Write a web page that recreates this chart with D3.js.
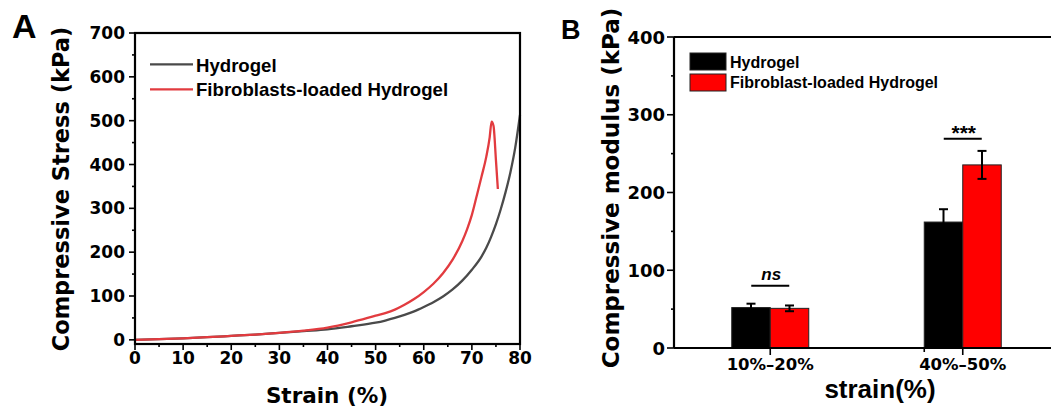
<!DOCTYPE html>
<html>
<head>
<meta charset="utf-8">
<script src="https://cdn.jsdelivr.net/npm/d3@7"></script>
<style>
  body { margin: 0; background: #fff; }
  text { font-family: "Liberation Sans", Arial, sans-serif; font-weight: bold; fill: #000; }
  text.wide { font-family: "DejaVu Sans", sans-serif; }
</style>
</head>
<body>
<script>
// panel A data: stress-strain curves
var hydroStrain = [0, 5, 10, 15, 20, 25, 30, 35, 40, 45, 50, 52, 54, 56, 58, 60, 62, 64, 66, 68, 70, 72, 73, 74, 75, 76, 77, 78, 79, 80];
var hydroStress = [0, 1.5, 3.5, 6, 9, 12, 16, 20, 24, 31, 39, 44, 50, 57, 65, 75, 86, 99, 115, 135, 160, 190, 210, 235, 264, 298, 337, 382, 438, 513];
var fibroStrain = [0, 5, 10, 15, 20, 25, 30, 35, 40, 45, 50, 52, 54, 56, 58, 60, 62, 64, 66, 68, 69, 70, 71, 72, 73, 73.7, 74.1, 74.5, 75, 75.4];
var fibroStress = [0, 1.5, 3.5, 6, 9, 12, 16, 21, 28, 40, 55, 61, 69, 80, 93, 109, 128, 152, 183, 225, 252, 285, 328, 372, 418, 462, 498, 488, 410, 344];
var seriesA = ["Hydrogel", "Fibroblasts-loaded Hydrogel"];

// panel B data: compressive modulus
var ranges = ["10%\u201320%", "40%\u201350%"];
var seriesB = ["Hydrogel", "Fibroblast-loaded Hydrogel"];
var modHydro = [52, 162];
var modFibro = [51, 235.5];
var errHydro = [5, 16.5];
var errFibro = [3.7, 18];
var sigLabels = ["ns", "***"];
var sigLevel = [80, 269];

var svg = d3.select("body").append("svg")
    .attr("width", 1051)
    .attr("height", 412);

// ---------- panel A ----------
var xA = d3.scaleLinear().domain([0, 80]).range([135, 520]);
var yA = d3.scaleLinear().domain([-9.5, 700]).range([344, 33]);

var gA = svg.append("g");

var line = d3.line()
    .x(function(d) { return xA(d[0]); })
    .y(function(d) { return yA(d[1]); })
    .curve(d3.curveMonotoneX);

gA.append("path")
    .datum(d3.zip(hydroStrain, hydroStress))
    .attr("d", line)
    .attr("fill", "none").attr("stroke", "#4a4a4a").attr("stroke-width", 2.3);
gA.append("path")
    .datum(d3.zip(fibroStrain, fibroStress))
    .attr("d", line)
    .attr("fill", "none").attr("stroke", "#e23b3f").attr("stroke-width", 2.3);

// box
gA.append("rect")
    .attr("x", xA(0)).attr("y", yA(700))
    .attr("width", xA(80) - xA(0)).attr("height", yA(-9.5) - yA(700))
    .attr("fill", "none").attr("stroke", "#000").attr("stroke-width", 2.2);

// ticks
gA.selectAll(".xt").data(d3.range(0, 81, 5)).enter().append("line")
    .attr("x1", function(d) { return xA(d); })
    .attr("x2", function(d) { return xA(d); })
    .attr("y1", 344)
    .attr("y2", function(d) { return d % 10 == 0 ? 350 : 347; })
    .attr("stroke", "#000").attr("stroke-width", 1.6);
gA.selectAll(".xl").data(d3.range(0, 81, 10)).enter().append("text")
    .attr("class", "wide")
    .attr("x", function(d) { return xA(d); })
    .attr("y", 364)
    .attr("text-anchor", "middle")
    .style("font-size", "17px")
    .text(function(d) { return d; });

gA.selectAll(".yt").data(d3.range(0, 701, 50)).enter().append("line")
    .attr("x1", 135)
    .attr("x2", function(d) { return d % 100 == 0 ? 129 : 132; })
    .attr("y1", function(d) { return yA(d); })
    .attr("y2", function(d) { return yA(d); })
    .attr("stroke", "#000").attr("stroke-width", 1.6);
gA.selectAll(".yl").data(d3.range(0, 701, 100)).enter().append("text")
    .attr("class", "wide")
    .attr("x", 125)
    .attr("y", function(d) { return yA(d) + 6; })
    .attr("text-anchor", "end")
    .style("font-size", "17px")
    .text(function(d) { return d; });

gA.append("text")
    .attr("class", "wide")
    .attr("transform", "translate(61,189) rotate(-90)")
    .attr("text-anchor", "middle")
    .attr("dy", "0.35em")
    .style("font-size", "22.5px")
    .text("Compressive Stress (kPa)");
gA.append("text")
    .attr("class", "wide")
    .attr("x", 327).attr("y", 403)
    .attr("text-anchor", "middle")
    .style("font-size", "21.5px")
    .text("Strain (%)");
gA.append("text")
    .attr("x", 12).attr("y", 38)
    .style("font-size", "34px")
    .text("A");

var colA = ["#4a4a4a", "#e23b3f"];
seriesA.forEach(function(s, i) {
    gA.append("line")
        .attr("x1", 150).attr("x2", 193)
        .attr("y1", 64.3 + i * 25).attr("y2", 64.3 + i * 25)
        .attr("stroke", colA[i]).attr("stroke-width", 2.3);
    gA.append("text")
        .attr("x", 196).attr("y", 71.5 + i * 24.5)
        .style("font-size", "18.6px")
        .text(s);
});

// ---------- panel B ----------
var x0 = d3.scaleBand().domain(ranges).range([674, 1059]).paddingInner(0.6).paddingOuter(0.3);
var x1 = d3.scaleBand().domain(seriesB).range([0, x0.bandwidth()]);
var yB = d3.scaleLinear().domain([0, 400]).range([348, 37]);

var gB = svg.append("g");

var rows = ranges.map(function(r, i) {
    return [
        { cat: r, s: seriesB[0], v: modHydro[i], e: errHydro[i], c: "#000000" },
        { cat: r, s: seriesB[1], v: modFibro[i], e: errFibro[i], c: "#ff0000" }
    ];
});
var flat = [].concat.apply([], rows);

gB.selectAll(".bar").data(flat).enter().append("rect")
    .attr("x", function(d) { return x0(d.cat) + x1(d.s); })
    .attr("y", function(d) { return yB(d.v); })
    .attr("width", x1.bandwidth())
    .attr("height", function(d) { return yB(0) - yB(d.v); })
    .attr("fill", function(d) { return d.c; })
    .attr("stroke", "#222").attr("stroke-width", 1);

// error bars
var eb = gB.selectAll(".err").data(flat).enter().append("g");
function cx(d) { return x0(d.cat) + x1(d.s) + x1.bandwidth() / 2; }
eb.append("line")
    .attr("x1", cx).attr("x2", cx)
    .attr("y1", function(d) { return yB(d.v - d.e); })
    .attr("y2", function(d) { return yB(d.v + d.e); })
    .attr("stroke", "#000").attr("stroke-width", 2);
eb.append("line")
    .attr("x1", function(d) { return cx(d) - 4.5; })
    .attr("x2", function(d) { return cx(d) + 4.5; })
    .attr("y1", function(d) { return yB(d.v + d.e); })
    .attr("y2", function(d) { return yB(d.v + d.e); })
    .attr("stroke", "#000").attr("stroke-width", 2);
eb.append("line")
    .attr("x1", function(d) { return cx(d) - 4.5; })
    .attr("x2", function(d) { return cx(d) + 4.5; })
    .attr("y1", function(d) { return yB(d.v - d.e); })
    .attr("y2", function(d) { return yB(d.v - d.e); })
    .attr("stroke", "#000").attr("stroke-width", 2);

// significance marks
ranges.forEach(function(r, i) {
    var c = x0(r) + x0.bandwidth() / 2;
    gB.append("line")
        .attr("x1", c - 19).attr("x2", c + 19)
        .attr("y1", yB(sigLevel[i])).attr("y2", yB(sigLevel[i]))
        .attr("stroke", "#000").attr("stroke-width", 2);
    gB.append("text")
        .attr("x", c + 1)
        .attr("y", yB(sigLevel[i]) - (i == 0 ? 6 : -1))
        .attr("text-anchor", "middle")
        .style("font-size", i == 0 ? "17px" : "21px")
        .style("font-style", i == 0 ? "italic" : "normal")
        .text(sigLabels[i]);
});

// axes frame
gB.append("line").attr("x1", 674).attr("x2", 1059).attr("y1", 348).attr("y2", 348)
    .attr("stroke", "#000").attr("stroke-width", 2.2);
gB.append("line").attr("x1", 674).attr("x2", 1059).attr("y1", 37).attr("y2", 37)
    .attr("stroke", "#000").attr("stroke-width", 2.2);
gB.append("line").attr("x1", 674).attr("x2", 674).attr("y1", 37).attr("y2", 348)
    .attr("stroke", "#000").attr("stroke-width", 2.2);

gB.selectAll(".ybt").data(d3.range(0, 401, 50)).enter().append("line")
    .attr("x1", 674)
    .attr("x2", function(d) { return d % 100 == 0 ? 667 : 671; })
    .attr("y1", function(d) { return yB(d); })
    .attr("y2", function(d) { return yB(d); })
    .attr("stroke", "#000").attr("stroke-width", 1.6);
gB.selectAll(".ybl").data(d3.range(0, 401, 100)).enter().append("text")
    .attr("class", "wide")
    .attr("x", 665)
    .attr("y", function(d) { return yB(d) + 6.5; })
    .attr("text-anchor", "end")
    .style("font-size", "18px")
    .text(function(d) { return d; });

gB.selectAll(".xbt").data(ranges).enter().append("line")
    .attr("x1", function(d) { return x0(d) + x0.bandwidth() / 2; })
    .attr("x2", function(d) { return x0(d) + x0.bandwidth() / 2; })
    .attr("y1", 348).attr("y2", 355)
    .attr("stroke", "#000").attr("stroke-width", 1.6);
gB.append("line")
    .attr("x1", x0(ranges[0]) + x0.step()).attr("x2", x0(ranges[0]) + x0.step())
    .attr("y1", 348).attr("y2", 352)
    .attr("stroke", "#000").attr("stroke-width", 1.6);
gB.selectAll(".xbl").data(ranges).enter().append("text")
    .attr("class", "wide")
    .attr("x", function(d) { return x0(d) + x0.bandwidth() / 2; })
    .attr("y", 370)
    .attr("text-anchor", "middle")
    .style("font-size", "16.5px")
    .text(function(d) { return d; });

gB.append("text")
    .attr("x", 880).attr("y", 398)
    .attr("text-anchor", "middle")
    .style("font-size", "26px")
    .text("strain(%)");
gB.append("text")
    .attr("class", "wide")
    .attr("transform", "translate(611,188) rotate(-90)")
    .attr("text-anchor", "middle")
    .attr("dy", "0.35em")
    .style("font-size", "23px")
    .text("Compressive modulus (kPa)");
gB.append("text")
    .attr("x", 561).attr("y", 39)
    .style("font-size", "27px")
    .text("B");

// legend B
var colB = ["#000000", "#ff0000"];
seriesB.forEach(function(s, i) {
    gB.append("rect")
        .attr("x", 690).attr("y", 53 + i * 21)
        .attr("width", 36).attr("height", 17)
        .attr("fill", colB[i]).attr("stroke", "#222").attr("stroke-width", 1);
    gB.append("text")
        .attr("x", 730).attr("y", 67.5 + i * 20)
        .style("font-size", "16px")
        .text(s);
});
</script>
</body>
</html>
